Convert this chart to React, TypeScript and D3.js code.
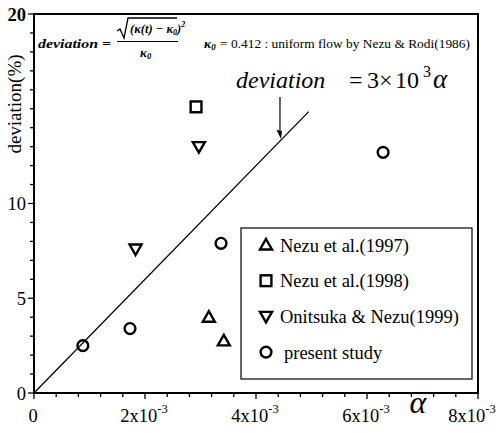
import React from "react";
import * as d3 from "d3";

// Measured deviation of the von Karman constant vs. alpha
const nezu1997 = [
  { a: 3.15e-3, d: 4.0 },
  { a: 3.42e-3, d: 2.75 },
];
const nezu1998 = [{ a: 2.92e-3, d: 15.1 }];
const onitsuka1999 = [
  { a: 1.83e-3, d: 7.6 },
  { a: 2.97e-3, d: 13.0 },
];
const presentStudy = [
  { a: 0.88e-3, d: 2.5 },
  { a: 1.73e-3, d: 3.4 },
  { a: 3.37e-3, d: 7.9 },
  { a: 6.29e-3, d: 12.7 },
];
const legendLabels = [
  "Nezu et al.(1997)",
  "Nezu et al.(1998)",
  "Onitsuka & Nezu(1999)",
  "present study",
];
const fitSlope = 3e3; // deviation(%) = 3x10^3 * alpha
const fitEnd = 4.95e-3;
const xMajor = [0, 2e-3, 4e-3, 6e-3, 8e-3];
const yMajor = [0, 5, 10, 20];

const W = 503;
const H = 433;
const FONT = "Liberation Serif, Times New Roman, DejaVu Serif, serif";

type Kind = "up" | "square" | "down" | "circle";

function Marker({ kind, x, y }: { kind: Kind; x: number; y: number }) {
  const sw = 2.4;
  if (kind === "circle")
    return <circle cx={x} cy={y} r={5.4} fill="none" stroke="#000" strokeWidth={sw} />;
  if (kind === "square")
    return <rect x={x - 5.4} y={y - 5.4} width={10.8} height={10.8} fill="none" stroke="#000" strokeWidth={sw} />;
  const s = 6;
  const pts =
    kind === "up"
      ? [[x, y - s], [x + s, y + s * 0.75], [x - s, y + s * 0.75]]
      : [[x, y + s], [x + s, y - s * 0.75], [x - s, y - s * 0.75]];
  return (
    <polygon
      points={pts.map((p) => p.join(",")).join(" ")}
      fill="none"
      stroke="#000"
      strokeWidth={sw}
      strokeLinejoin="miter"
    />
  );
}

export default function App() {
  const x = d3.scaleLinear().domain([0, 8e-3]).range([34, 478]);
  const y = d3.scaleLinear().domain([0, 20]).range([393, 14]);

  const xMinor = d3.range(0, 8e-3 + 1e-9, 0.4e-3);
  const yMinor = d3.range(0, 21, 1);

  const fitLine = d3
    .line<number>()
    .x((a) => x(a))
    .y((a) => y(a * fitSlope));

  const series: { kind: Kind; data: { a: number; d: number }[] }[] = [
    { kind: "up", data: nezu1997 },
    { kind: "square", data: nezu1998 },
    { kind: "down", data: onitsuka1999 },
    { kind: "circle", data: presentStudy },
  ];

  // arrow pointing at the fit line
  const tipA = 4.45e-3;
  const arrowTip = { x: x(tipA), y: y(tipA * fitSlope) };

  return (
    <svg
      width={W}
      height={H}
      style={{ position: "absolute", left: 0, top: 0, fontFamily: FONT }}
    >
      <rect width={W} height={H} fill="#fff" />

      {/* frame */}
      <rect x={34} y={14} width={444} height={379} fill="none" stroke="#000" strokeWidth={2} />

      {/* y ticks */}
      {yMinor.map((v) => (
        <line key={"ym" + v} x1={34} x2={yMajor.includes(v) ? 28 : 30} y1={y(v)} y2={y(v)} stroke="#000" strokeWidth={1.3} />
      ))}
      {yMajor.map((v) => (
        <text
          key={"yl" + v}
          x={26}
          y={y(v) + 6.5}
          textAnchor="end"
          fontSize={18.5}
          fontWeight={v === 20 ? "bold" : "normal"}
        >
          {v}
        </text>
      ))}

      {/* x ticks */}
      {xMinor.map((v, i) => (
        <line key={"xm" + i} x1={x(v)} x2={x(v)} y1={393} y2={i % 5 === 0 ? 399 : 397} stroke="#000" strokeWidth={1.3} />
      ))}
      {xMajor.map((v, i) =>
        i === 0 ? (
          <text key="xl0" x={x(v) - 1} y={422} textAnchor="middle" fontSize={18.5}>
            0
          </text>
        ) : (
          <text
            key={"xl" + i}
            x={x(v) - (i === xMajor.length - 1 ? 6 : 1)}
            y={422}
            textAnchor="middle"
            fontSize={18.5}
          >
            {`${Math.round(v * 1e3)}x10`}
            <tspan dy={-9} fontSize={12.5}>
              -3
            </tspan>
          </text>
        )
      )}

      {/* axis titles */}
      <text x={418} y={413} textAnchor="middle" fontSize={32} fontStyle="italic">
        α
      </text>
      <text transform="translate(21,104) rotate(-90)" textAnchor="middle" fontSize={19}>
        deviation(%)
      </text>

      {/* definition of deviation */}
      <g fontWeight="bold" fontStyle="italic">
        <text x={38} y={48} fontSize={13.5} textLength={73} lengthAdjust="spacingAndGlyphs">
          deviation =
        </text>
        <path d="M117,31 L120,29 L124,38 L128,18 L177,18" fill="none" stroke="#000" strokeWidth={1.3} />
        <text x={130} y={33} fontSize={12.5}>
          (κ(t) − κ
          <tspan dy={2} fontSize={8}>0</tspan>
          <tspan dy={-2}>)</tspan>
          <tspan dy={-6} fontSize={8}>2</tspan>
        </text>
        <line x1={117} x2={178} y1={41.5} y2={41.5} stroke="#000" strokeWidth={1.1} />
        <text x={140} y={57} fontSize={13}>
          κ<tspan dy={2} fontSize={8.5}>0</tspan>
        </text>
      </g>
      <text x={204} y={48} fontSize={13.5} fontWeight="bold" fontStyle="italic">
        κ<tspan dy={2} fontSize={9}>0</tspan>
      </text>
      <text x={220} y={48} fontSize={13} textLength={250} lengthAdjust="spacingAndGlyphs">
        = 0.412 : uniform flow by Nezu &amp; Rodi(1986)
      </text>

      {/* fit line and its label */}
      <path d={fitLine([0, fitEnd]) || ""} fill="none" stroke="#000" strokeWidth={1.3} />
      <text x={236} y={88} fontSize={24} fontStyle="italic">
        deviation
      </text>
      <text y={88} fontSize={24}>
        <tspan x={349}>=</tspan>
        <tspan x={367}>3</tspan>
        <tspan x={379}>×</tspan>
        <tspan x={395}>10</tspan>
        <tspan x={423} dy={-11} fontSize={16}>3</tspan>
        <tspan x={433} dy={11} fontStyle="italic" fontSize={27}>α</tspan>
      </text>
      <line x1={280} y1={97} x2={arrowTip.x - 1} y2={arrowTip.y - 5} stroke="#000" strokeWidth={1.2} />
      <path
        d={`M${arrowTip.x},${arrowTip.y - 1} L${arrowTip.x - 4.5},${arrowTip.y - 10} L${arrowTip.x + 1},${arrowTip.y - 9} Z`}
        fill="#000"
      />

      {/* data markers */}
      {series.map((s) =>
        s.data.map((p, i) => <Marker key={s.kind + i} kind={s.kind} x={x(p.a)} y={y(p.d)} />)
      )}

      {/* legend */}
      <rect x={241} y={228} width={231} height={151} fill="#fff" stroke="#000" strokeWidth={1.2} />
      {series.map((s, i) => (
        <g key={"lg" + i}>
          <Marker kind={s.kind} x={266} y={245 + i * 35.7} />
          <text x={i === 3 ? 284 : 280} y={245 + i * 35.7 + 6.5} fontSize={18.5}>
            {legendLabels[i]}
          </text>
        </g>
      ))}
    </svg>
  );
}
